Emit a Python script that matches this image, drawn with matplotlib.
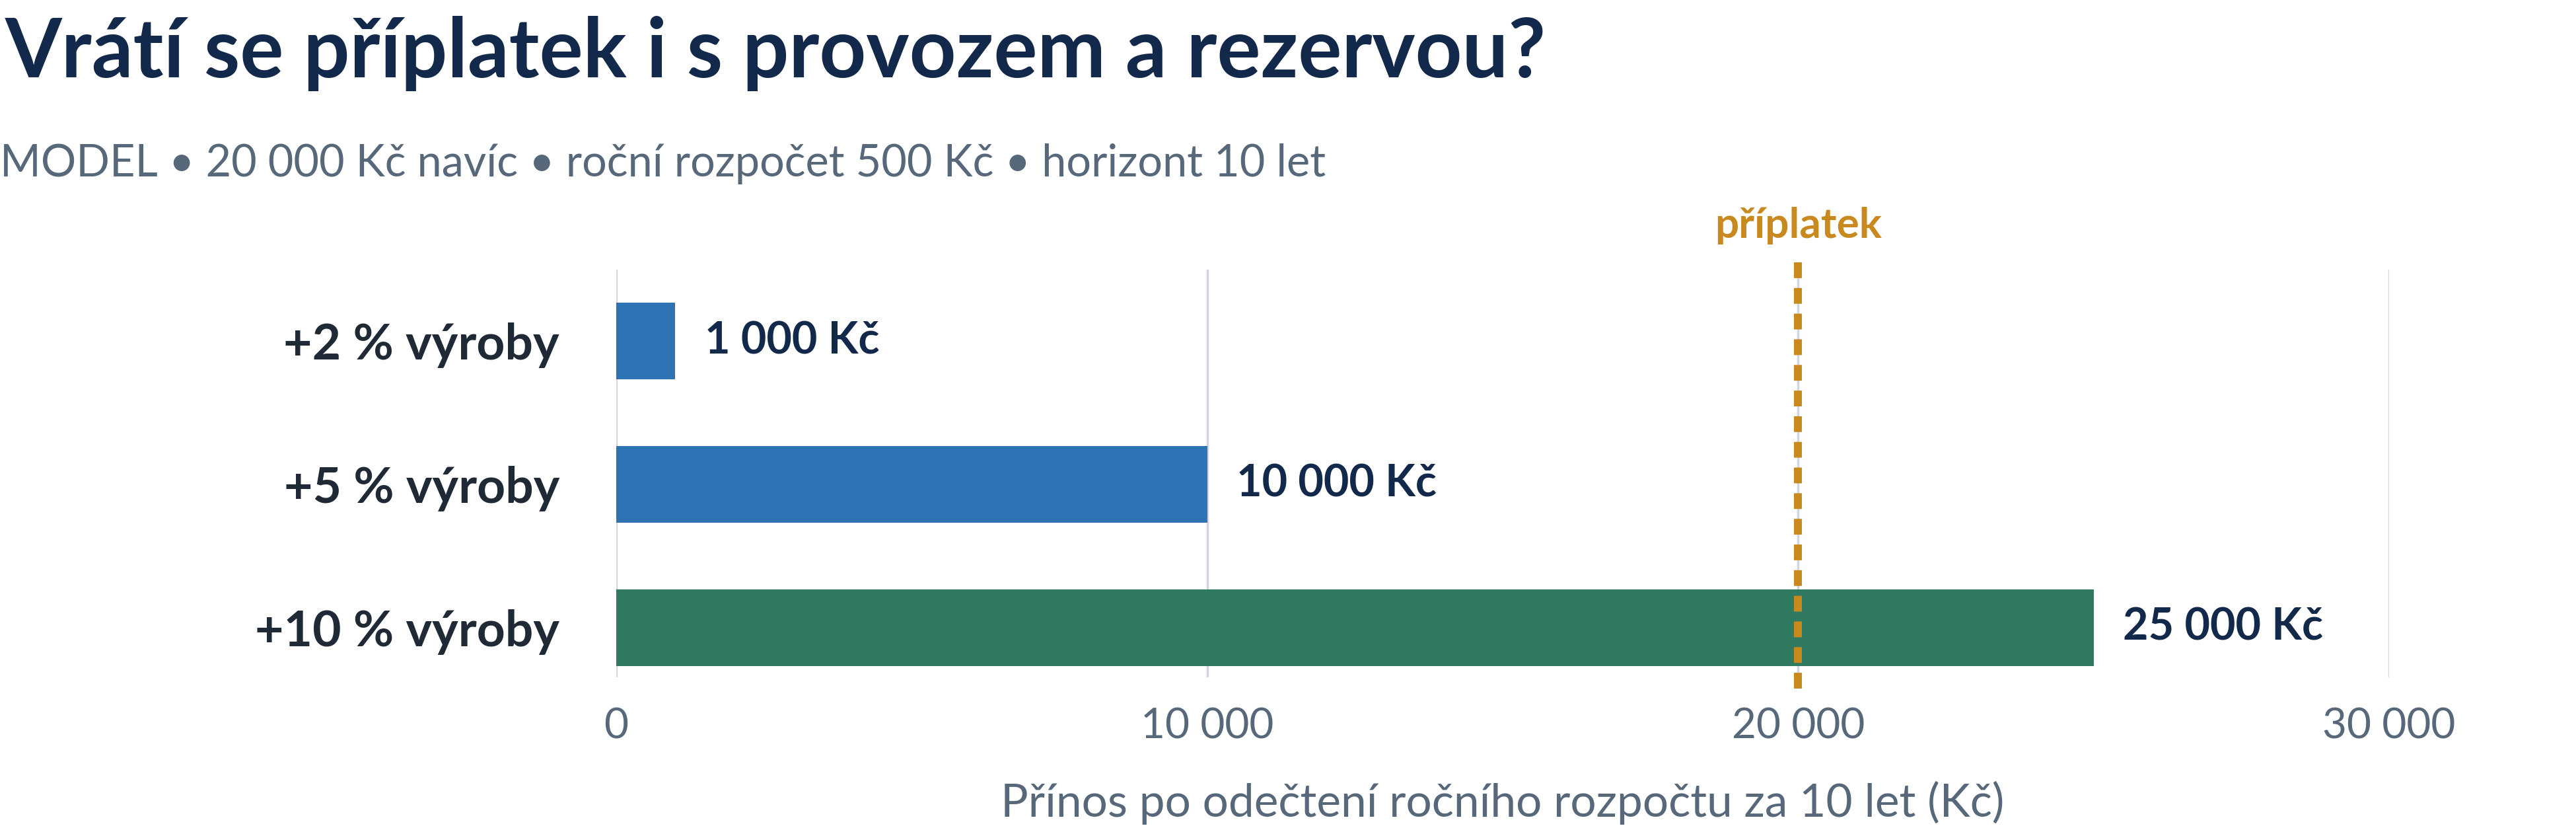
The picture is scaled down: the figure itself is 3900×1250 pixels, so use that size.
import matplotlib
matplotlib.use("Agg")
import matplotlib.pyplot as plt
from matplotlib.ticker import FuncFormatter

# data
categories = ['+2 % výroby', '+5 % výroby', '+10 % výroby']
values = [1000, 10000, 25000]
bar_colors = ['#2E73B4', '#2E73B4', '#307A61']
threshold = 20000
threshold_label = 'příplatek'
xticks = [0, 10000, 20000, 30000]

title = 'Vrátí se příplatek i s provozem a rezervou?'
subtitle = 'MODEL • 20 000 Kč navíc • roční rozpočet 500 Kč • horizont 10 let'
xlabel = 'Přínos po odečtení ročního rozpočtu za 10 let (Kč)'

plt.rcParams['font.family'] = ['Lato', 'DejaVu Sans']


def fmt(v):
    return f'{int(v):,}'.replace(',', ' ')


W, H = 3900, 1250
fig = plt.figure(figsize=(W / 100, H / 100), dpi=100)

# axes box in pixels: x 933..3617, y 408..1025
ax = fig.add_axes([933 / W, 1 - 1025 / H, (3617 - 933) / W, (1025 - 408) / H])

ypos = list(range(len(categories)))
ax.barh(ypos, values, height=0.535, color=bar_colors, zorder=2)
ax.set_ylim(2.346, -0.498)
ax.set_xlim(0, 30000)

ax.set_yticks(ypos)
ax.set_yticklabels(categories, fontsize=54, fontweight='bold', color='#1F2A36')
ax.set_xticks(xticks)
ax.xaxis.set_major_formatter(FuncFormatter(lambda v, p: fmt(v)))
ax.tick_params(axis='y', length=0, pad=62)
ax.tick_params(axis='x', length=0, pad=33, labelsize=46, labelcolor='#56687A')
ax.grid(axis='x', color='#CFD7E2', linewidth=2.5, zorder=0)
ax.grid(axis='y', visible=False)
for s in ax.spines.values():
    s.set_visible(False)

for y, v in zip(ypos, values):
    ax.annotate(fmt(v) + ' Kč', xy=(v, y), xytext=(32, 0), textcoords='offset points',
                va='center', ha='left', fontsize=48, fontweight='bold', color='#13294B')

# threshold line
ax.axvline(threshold, ymin=-0.027, ymax=1.026, clip_on=False, color='#C8891F',
           linewidth=8.6, dashes=(2.0, 1.25), zorder=3)
ax.text(threshold, -0.498 - 0.22, threshold_label, ha='center', va='baseline',
        fontsize=46, fontweight='bold', color='#C8891F')

ax.set_xlabel(xlabel, fontsize=50, color='#56687A', labelpad=38)

fig.text(0.002, 1 - 117 / H, title, fontsize=89, fontweight='bold', color='#13294B',
         va='baseline', ha='left')
fig.text(0.0, 1 - 267 / H, subtitle, fontsize=48, color='#56687A',
         va='baseline', ha='left')

fig.savefig('out.png', dpi=100)
